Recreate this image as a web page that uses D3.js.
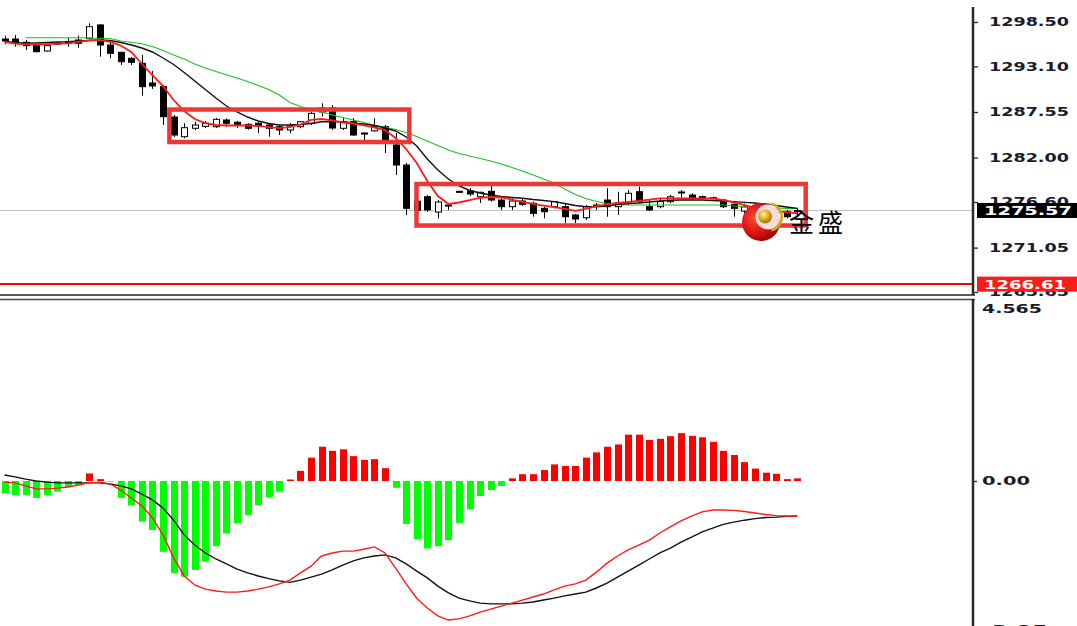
<!DOCTYPE html>
<html><head><meta charset="utf-8">
<script src="https://cdn.jsdelivr.net/npm/d3@7"></script>
<style>
html,body{margin:0;padding:0;background:#fff;overflow:hidden}
svg{display:block}
</style></head><body>
<svg id="c" width="1077" height="626"></svg>
<script>
// ---------- DATA ----------
const bars = d3.range(76); // bar index (time)
const open = [1296.43,1296.43,1296.03,1295.62,1294.97,1295.80,1296.11,1296.31,1296.52,1298.14,
1295.70,1294.81,1294.08,1293.47,1291.08,1290.63,1286.94,1284.54,1285.57,1285.80,
1285.76,1286.58,1286.30,1286.05,1286.18,1285.97,1285.76,1285.36,1285.76,1286.18,
1287.55,1288.04,1285.57,1286.37,1284.99,1285.26,1285.76,1283.54,1281.10,1276.70,
1277.24,1275.38,1276.23,1277.90,1277.94,1277.24,1277.90,1276.84,1276.03,1276.72,
1276.44,1275.83,1276.03,1276.03,1275.02,1274.69,1276.11,1276.84,1276.03,1276.44,
1277.85,1276.03,1276.03,1276.64,1277.70,1277.45,1277.25,1277.12,1276.84,1276.32,
1275.50,1276.10,1275.02,1275.83,1275.42,1275.45];
const high = [1296.83,1296.92,1296.31,1295.79,1295.70,1296.05,1296.55,1296.83,1298.34,1298.26,
1296.31,1294.89,1294.24,1294.49,1292.54,1290.84,1287.19,1286.18,1286.37,1286.46,
1286.82,1286.78,1286.46,1286.18,1286.30,1286.18,1285.97,1286.18,1286.46,1287.59,
1288.61,1288.40,1286.82,1286.82,1285.06,1286.78,1285.97,1284.99,1281.34,1277.00,
1277.45,1276.84,1276.30,1277.95,1278.30,1277.85,1278.67,1277.24,1277.05,1276.96,
1276.64,1276.03,1276.72,1276.48,1275.14,1276.23,1276.48,1278.27,1277.85,1278.06,
1278.47,1276.84,1276.96,1277.45,1278.06,1277.66,1277.37,1277.25,1276.96,1276.60,
1276.40,1276.30,1275.83,1276.03,1275.63,1275.90];
const low = [1295.79,1295.50,1295.09,1294.81,1294.90,1295.70,1295.49,1295.37,1296.43,1294.28,
1294.08,1293.27,1293.27,1289.53,1290.35,1285.97,1284.51,1284.35,1285.36,1285.60,
1285.60,1285.76,1285.60,1285.40,1284.96,1284.54,1284.75,1284.96,1285.57,1285.97,
1287.00,1285.36,1285.36,1284.63,1284.14,1285.16,1282.56,1279.88,1275.02,1275.30,
1275.38,1274.61,1275.63,1277.80,1277.33,1276.48,1276.64,1275.63,1275.63,1276.11,
1274.81,1274.61,1275.83,1274.04,1274.04,1274.41,1275.63,1274.81,1275.02,1276.23,
1276.44,1275.50,1275.83,1276.44,1277.12,1276.84,1276.96,1276.96,1275.87,1274.81,
1275.20,1275.30,1274.81,1274.69,1274.61,1275.00];
const close = [1296.19,1295.91,1295.62,1294.89,1295.62,1295.95,1295.91,1295.91,1297.93,1295.70,
1294.69,1293.67,1293.60,1290.63,1290.72,1286.98,1284.75,1285.64,1285.97,1286.18,
1286.66,1286.18,1285.97,1285.57,1285.85,1285.57,1285.36,1285.85,1286.37,1287.39,
1288.03,1285.60,1286.37,1284.75,1284.93,1285.76,1284.14,1281.10,1275.83,1275.60,
1275.63,1276.60,1276.11,1277.85,1277.57,1277.78,1276.84,1276.03,1276.72,1276.32,
1275.22,1275.42,1276.64,1274.81,1274.53,1276.03,1276.23,1276.03,1276.48,1277.66,
1276.64,1275.63,1276.64,1277.24,1277.82,1277.09,1277.20,1277.08,1276.03,1275.83,
1276.00,1275.60,1275.63,1275.22,1274.81,1275.57];
const maFast = [1296.07,1295.88,1295.79,1295.76,1295.82,1295.88,1295.91,1296.07,1296.25,1296.31,
1296.07,1295.64,1294.85,1293.39,1292.05,1290.71,1289.01,1287.67,1286.70,1286.21,
1285.97,1285.91,1285.91,1285.91,1285.85,1285.72,1285.60,1285.72,1286.03,1286.58,
1286.70,1286.52,1286.27,1286.15,1285.91,1285.66,1285.36,1284.39,1283.05,1281.35,
1279.16,1277.33,1276.36,1276.54,1276.84,1277.09,1277.21,1277.15,1276.90,1276.60,
1276.36,1276.17,1275.99,1275.75,1275.51,1275.75,1276.11,1276.30,1276.48,1276.60,
1276.72,1276.90,1277.03,1277.05,1277.05,1277.05,1277.05,1277.03,1276.84,1276.54,
1276.23,1275.93,1275.69,1275.51,1275.35,1275.23];
const maMid = [1296.13,1296.01,1295.91,1295.95,1296.01,1296.07,1296.10,1296.19,1296.27,1296.31,
1296.25,1296.01,1295.70,1295.34,1294.85,1294.12,1293.33,1292.36,1291.32,1290.29,
1289.25,1288.28,1287.55,1286.94,1286.46,1286.15,1285.97,1285.97,1286.03,1286.15,
1286.37,1286.39,1286.37,1286.21,1286.09,1285.91,1285.60,1285.24,1284.51,1283.41,
1281.83,1280.49,1279.40,1278.55,1278.00,1277.69,1277.45,1277.27,1277.15,1277.05,
1276.90,1276.78,1276.64,1276.42,1276.17,1276.03,1276.03,1276.11,1276.30,1276.42,
1276.48,1276.60,1276.72,1276.81,1276.84,1276.84,1276.84,1276.78,1276.72,1276.64,
1276.56,1276.48,1276.36,1276.17,1275.99,1275.83];
const maSlow = [null,null,1296.59,1296.59,1296.59,1296.59,1296.59,1296.58,1296.55,1296.53,
1296.49,1296.19,1296.03,1295.85,1295.52,1295.03,1294.49,1294.00,1293.39,1292.90,
1292.48,1292.09,1291.69,1291.26,1290.77,1290.29,1289.62,1288.71,1288.22,1287.85,
1287.55,1287.19,1286.88,1286.58,1286.27,1285.93,1285.72,1285.42,1285.06,1284.57,
1284.02,1283.47,1282.93,1282.50,1282.20,1281.89,1281.59,1281.22,1280.80,1280.37,
1279.88,1279.40,1278.88,1278.18,1277.51,1277.03,1276.66,1276.42,1276.30,1276.23,
1276.23,1276.23,1276.23,1276.23,1276.23,1276.23,1276.23,1276.23,1276.23,1276.11,
1276.03,1275.99,1275.93,1275.87,1275.83,1275.83];
const histogram = [-0.32,-0.37,-0.37,-0.45,-0.37,-0.28,-0.16,-0.11,0.20,0.05,
-0.01,-0.45,-0.64,-1.08,-1.30,-1.88,-2.44,-2.54,-2.36,-2.14,
-1.73,-1.39,-1.12,-0.90,-0.64,-0.43,-0.28,0.04,0.27,0.62,
0.91,0.80,0.84,0.66,0.56,0.58,0.34,-0.18,-1.14,-1.54,
-1.79,-1.73,-1.57,-1.11,-0.75,-0.40,-0.24,-0.13,0.07,0.18,
0.18,0.29,0.44,0.40,0.40,0.62,0.76,0.91,0.97,1.23,
1.23,1.09,1.12,1.19,1.27,1.20,1.16,1.04,0.80,0.69,
0.50,0.33,0.22,0.19,0.05,0.07];
const macdLine = [-0.03,-0.05,-0.13,-0.21,-0.21,-0.19,-0.16,-0.11,-0.05,-0.03,
-0.08,-0.24,-0.45,-0.66,-0.98,-1.43,-2.04,-2.52,-2.76,-2.87,
-2.92,-2.95,-2.95,-2.92,-2.87,-2.81,-2.73,-2.63,-2.44,-2.26,
-1.99,-1.91,-1.86,-1.86,-1.81,-1.75,-1.91,-2.31,-2.73,-3.11,
-3.37,-3.58,-3.69,-3.66,-3.58,-3.48,-3.40,-3.32,-3.24,-3.16,
-3.08,-3.00,-2.89,-2.79,-2.73,-2.63,-2.42,-2.18,-1.99,-1.83,
-1.70,-1.57,-1.38,-1.22,-1.06,-0.93,-0.82,-0.77,-0.77,-0.78,
-0.81,-0.85,-0.89,-0.92,-0.93,-0.94];
const signalLine = [0.16,0.11,0.05,0.00,-0.03,-0.05,-0.05,-0.05,-0.05,-0.05,
-0.08,-0.13,-0.21,-0.35,-0.50,-0.72,-1.04,-1.43,-1.70,-1.91,
-2.07,-2.20,-2.34,-2.44,-2.52,-2.59,-2.65,-2.69,-2.63,-2.55,
-2.47,-2.36,-2.23,-2.12,-2.04,-1.99,-1.96,-2.04,-2.20,-2.39,
-2.57,-2.79,-2.97,-3.11,-3.18,-3.24,-3.26,-3.26,-3.26,-3.24,
-3.21,-3.16,-3.11,-3.05,-3.00,-2.95,-2.84,-2.71,-2.55,-2.39,
-2.23,-2.07,-1.91,-1.78,-1.62,-1.49,-1.35,-1.25,-1.15,-1.09,
-1.04,-1.00,-0.97,-0.96,-0.94,-0.93];
const priceTicks = [1298.50,1293.10,1287.55,1282.00,1276.60,1271.05,1265.65];
const priceTickLabels = ["1298.50","1293.10","1287.55","1282.00","1276.60","1271.05","1265.65"];
const macdTicks = [4.565,0,-3.95];
const macdTickLabels = ["4.565","0.00","-3.95"];
const currentPrice = 1275.57, currentLabel = "1275.57";
const levelPrice = 1266.61, levelLabel = "1266.61";
// annotation boxes (bar index range, price range)
const boxFrom = [15.6, 38.98], boxTo = [38.3, 75.8];
const boxTop = [1287.85, 1278.79], boxBottom = [1283.90, 1273.74];
const logoText = "金盛";

// ---------- LAYOUT ----------
const svg = d3.select("#c");
const axisX = 973;
const x = d3.scaleLinear().domain([0,75]).range([4.5,797.25]);
const y = d3.scaleLinear().domain([1265.65,1298.50]).range([292,22]);
const ym = d3.scaleLinear().domain([0,4.565]).range([481,309]);

const defs = svg.append("defs");
defs.append("clipPath").attr("id","cm").append("rect").attr("x",0).attr("y",0).attr("width",axisX-1).attr("height",294);
defs.append("clipPath").attr("id","cs").append("rect").attr("x",0).attr("y",300).attr("width",axisX-1).attr("height",326);

const main = svg.append("g").attr("clip-path","url(#cm)");
const sub = svg.append("g").attr("clip-path","url(#cs)");

// current price line
main.append("line").attr("x1",0).attr("x2",axisX).attr("y1",Math.round(y(currentPrice))+0.5).attr("y2",Math.round(y(currentPrice))+0.5)
  .attr("stroke","#c0c0c0").attr("stroke-width",1);

// candles
const cg = main.append("g");
bars.forEach(i=>{
  const cx = Math.round(x(i))+0.5;
  cg.append("line").attr("x1",cx).attr("x2",cx).attr("y1",y(high[i])).attr("y2",y(low[i])).attr("stroke","#000").attr("stroke-width",1);
  const top = y(Math.max(open[i],close[i])), bot = y(Math.min(open[i],close[i]));
  const h = Math.max(1, bot-top);
  cg.append("rect").attr("x",cx-3).attr("width",6).attr("y",top).attr("height",h)
    .attr("fill", close[i]>=open[i] ? "#fff" : "#000").attr("stroke","#000").attr("stroke-width",1);
});

// moving averages
const lineP = d3.line().defined(d=>d!=null).x((d,i)=>x(i)).y(d=>y(d)).curve(d3.curveLinear);
main.append("path").attr("d",lineP(maSlow)).attr("fill","none").attr("stroke","#1fbf1f").attr("stroke-width",1.1);
main.append("path").attr("d",lineP(maMid)).attr("fill","none").attr("stroke","#111").attr("stroke-width",1.4);
main.append("path").attr("d",lineP(maFast)).attr("fill","none").attr("stroke","#ff1a1a").attr("stroke-width",1.8);

// level line
main.append("line").attr("x1",0).attr("x2",axisX).attr("y1",y(levelPrice)).attr("y2",y(levelPrice)).attr("stroke","#ff0000").attr("stroke-width",2);

// annotation boxes
boxFrom.forEach((f,k)=>{
  main.append("rect").attr("x",x(f)).attr("y",y(boxTop[k])).attr("width",x(boxTo[k])-x(f)).attr("height",y(boxBottom[k])-y(boxTop[k]))
    .attr("fill","none").attr("stroke","#ee3636").attr("stroke-width",4.5);
});

// MACD histogram
sub.append("g").selectAll("rect").data(histogram).join("rect")
  .attr("x",(d,i)=>Math.round(x(i))-3)
  .attr("width",7)
  .attr("y",d=>ym(Math.max(d,0)))
  .attr("height",d=>Math.max(0.6,Math.abs(ym(d)-ym(0))))
  .attr("fill",d=>d>=0?"#ff0000":"#00ff00");
const lineM = d3.line().x((d,i)=>x(i)).y(d=>ym(d));
sub.append("path").attr("d",lineM(signalLine)).attr("fill","none").attr("stroke","#111").attr("stroke-width",1.4);
sub.append("path").attr("d",lineM(macdLine)).attr("fill","none").attr("stroke","#ff1a1a").attr("stroke-width",1.4);

// panel borders
svg.append("line").attr("x1",0).attr("x2",axisX+2).attr("y1",295).attr("y2",295).attr("stroke","#222").attr("stroke-width",1.5);
svg.append("line").attr("x1",0).attr("x2",axisX+2).attr("y1",299.5).attr("y2",299.5).attr("stroke","#444").attr("stroke-width",1.5);

// axes
svg.append("line").attr("x1",axisX).attr("x2",axisX).attr("y1",7).attr("y2",295).attr("stroke","#2a2a2a").attr("stroke-width",2.5);
svg.append("line").attr("x1",axisX).attr("x2",axisX).attr("y1",299).attr("y2",626).attr("stroke","#2a2a2a").attr("stroke-width",2.5);

const lblFont = "'DejaVu Sans', Verdana, sans-serif";
const ax = d3.axisRight(y).tickValues(priceTicks).tickSize(5).tickPadding(11)
  .tickFormat((d,i)=>priceTickLabels[i]);
const axg = svg.append("g").attr("transform",`translate(${axisX},0)`).call(ax);
axg.select(".domain").remove();
axg.selectAll(".tick line").attr("stroke","#2a2a2a").attr("stroke-width",1.3);
axg.selectAll(".tick text").attr("fill","#1a1a2c").attr("font-family",lblFont).attr("font-weight","bold")
  .attr("font-size","11.5px").attr("textLength",80).attr("lengthAdjust","spacingAndGlyphs");

const axm = d3.axisRight(ym).tickValues(macdTicks).tickSize(4).tickPadding(5)
  .tickFormat((d,i)=>macdTickLabels[i]);
const amg = svg.append("g").attr("transform",`translate(${axisX},0)`).call(axm);
amg.select(".domain").remove();
amg.selectAll(".tick line").attr("stroke","#2a2a2a").attr("stroke-width",1.3).attr("opacity",d=>d===0?1:0);
amg.selectAll(".tick text").attr("fill","#1a1a2c").attr("font-family",lblFont).attr("font-weight","bold")
  .attr("font-size","11.5px").attr("lengthAdjust","spacingAndGlyphs")
  .attr("textLength",(d,i)=>[60,48,66][i]);

// price labels boxes
function priceBox(p, txt, bg, tl){
  const cy = y(p);
  svg.append("rect").attr("x",axisX+4).attr("y",cy-7.5).attr("width",1077-axisX-4).attr("height",15).attr("fill",bg);
  svg.append("text").attr("x",axisX+11).attr("y",cy).attr("dy","0.36em").attr("fill","#fff")
    .attr("font-family",lblFont).attr("font-weight","bold").attr("font-size","12.5px")
    .attr("textLength",tl).attr("lengthAdjust","spacingAndGlyphs").text(txt);
}
priceBox(currentPrice,currentLabel,"#000",88);
priceBox(levelPrice,levelLabel,"#ff1a1a",82);

// logo watermark
const rg = defs.append("radialGradient").attr("id","rg").attr("cx","35%").attr("cy","40%").attr("r","70%");
rg.append("stop").attr("offset","0%").attr("stop-color","#ff4a30");
rg.append("stop").attr("offset","60%").attr("stop-color","#d81010");
rg.append("stop").attr("offset","100%").attr("stop-color","#8a0000");
const gg = defs.append("radialGradient").attr("id","gg").attr("cx","40%").attr("cy","35%").attr("r","65%");
gg.append("stop").attr("offset","0%").attr("stop-color","#fff0a0");
gg.append("stop").attr("offset","55%").attr("stop-color","#d9b020");
gg.append("stop").attr("offset","100%").attr("stop-color","#9a7a00");
const lg = svg.append("g");
lg.append("circle").attr("cx",761).attr("cy",222).attr("r",19).attr("fill","url(#rg)");
lg.append("circle").attr("cx",768).attr("cy",217).attr("r",12.5).attr("fill","#fff").attr("opacity",0.85);
lg.append("path").attr("d",d3.arc()({innerRadius:12.5,outerRadius:15,startAngle:0.2,endAngle:2.9})).attr("transform","translate(768,217)").attr("fill","#d4aa10");
lg.append("circle").attr("cx",765).attr("cy",216.5).attr("r",7).attr("fill","url(#gg)");
svg.append("text").attr("x",789).attr("y",232).attr("font-family","'Noto Sans CJK SC', sans-serif")
  .attr("font-size","25px").attr("letter-spacing","4px").attr("fill","#000").text(logoText);
</script>
</body></html>
